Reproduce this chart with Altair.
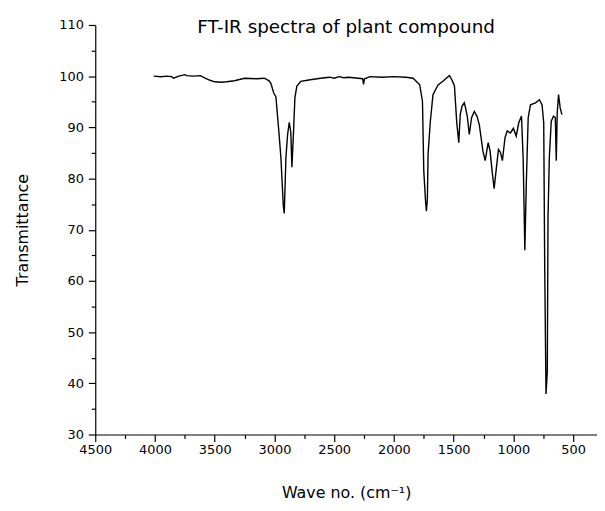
import altair as alt
import pandas as pd

# Wavenumber (cm-1)
wave = [4010, 3950, 3900, 3860, 3845, 3800, 3750, 3735, 3680, 3620, 3580, 3540, 3500, 3445, 3400,
        3335, 3250, 3150, 3085, 3045, 3030, 3006, 2988, 2965, 2946, 2926, 2918, 2904, 2890, 2876,
        2863, 2854, 2840, 2829, 2813, 2780, 2700, 2614, 2540, 2500, 2460, 2420, 2380, 2300, 2262,
        2254, 2246, 2200, 2100, 2000, 1900, 1839, 1784, 1761, 1750, 1735, 1728, 1720, 1714, 1695,
        1673, 1631, 1590, 1562, 1535, 1515, 1500, 1493, 1474, 1457, 1445, 1430, 1411, 1400, 1385,
        1369, 1350, 1327, 1305, 1285, 1272, 1255, 1236, 1211, 1195, 1180, 1161, 1145, 1125, 1108,
        1092, 1070, 1051, 1025, 1000, 976, 955, 932, 918, 904, 892, 876, 857, 815, 782,
        760, 746, 738, 727, 716, 710, 699, 683, 664, 649, 641, 633, 622, 608, 594]
# Transmittance (%)
trans = [100.0, 99.9, 100.0, 99.9, 99.6, 100.0, 100.3, 100.1, 100.0, 100.1, 99.6, 99.2, 98.9, 98.8, 98.9,
         99.1, 99.6, 99.5, 99.6, 99.1, 98.6, 96.7, 96.0, 89.7, 84.1, 74.7, 73.2, 84.1, 88.6, 91.0,
         89.0, 82.2, 89.3, 95.7, 98.0, 99.0, 99.3, 99.6, 99.8, 99.6, 99.9, 99.7, 99.8, 99.6, 99.5,
         98.4, 99.5, 99.9, 99.8, 99.9, 99.8, 99.6, 98.3, 95.1, 81.5, 75.5, 73.6, 76.0, 84.8, 91.2,
         96.4, 98.3, 99.0, 99.6, 100.1, 99.3, 98.5, 98.0, 90.9, 87.0, 92.5, 94.1, 94.8, 93.8, 92.0,
         88.6, 91.9, 93.1, 92.2, 90.5, 88.3, 85.4, 83.5, 87.0, 85.4, 81.9, 78.0, 81.5, 85.7, 85.1,
         83.5, 88.0, 89.3, 88.9, 89.8, 88.3, 90.9, 92.2, 83.8, 66.0, 78.9, 91.9, 94.4, 94.8, 95.4,
         94.4, 90.9, 63.5, 37.9, 42.2, 72.5, 84.1, 91.2, 92.2, 91.9, 83.5, 92.8, 96.4, 93.8, 92.5]

x_major = [4500, 4000, 3500, 3000, 2500, 2000, 1500, 1000, 500]
x_minor = [4250, 3750, 3250, 2750, 2250, 1750, 1250, 750]
y_major = [30, 40, 50, 60, 70, 80, 90, 100, 110]
y_minor = [35, 45, 55, 65, 75, 85, 95, 105]

df = pd.DataFrame({"w": wave, "t": trans})

FONT = "DejaVu Sans"
xscale = alt.Scale(domain=[300, 4500], reverse=True, nice=False, zero=False)
yscale = alt.Scale(domain=[30, 110], nice=False, zero=False)

main = alt.Chart(df).mark_line(color="black", strokeWidth=1.4).encode(
    x=alt.X("w:Q", scale=xscale,
            axis=alt.Axis(values=x_major, orient="bottom", title="Wave no. (cm⁻¹)",
                          tickSize=7, labelPadding=2, titlePadding=29, format="d",
                          labelFontSize=13, titleFontSize=16, labelFont=FONT, titleFont=FONT,
                          titleFontWeight="normal", labelFlush=False)),
    y=alt.Y("t:Q", scale=yscale,
            axis=alt.Axis(values=y_major, orient="left", title="Transmittance",
                          tickSize=7, labelPadding=5, titlePadding=29, format="d",
                          labelFontSize=13, titleFontSize=16, labelFont=FONT, titleFont=FONT,
                          titleFontWeight="normal", labelFlush=False)),
)

minor = alt.Chart(df).mark_line(opacity=0).encode(
    x=alt.X("w:Q", scale=xscale,
            axis=alt.Axis(values=x_minor, orient="bottom", title=None, labels=False,
                          domain=False, tickSize=4)),
    y=alt.Y("t:Q", scale=yscale,
            axis=alt.Axis(values=y_minor, orient="left", title=None, labels=False,
                          domain=False, tickSize=4)),
)

chart = alt.layer(main, minor).resolve_axis(x="independent", y="independent").properties(
    width=506, height=413,
    title=alt.TitleParams("FT-IR spectra of plant compound", font=FONT, fontSize=18.5,
                          fontWeight="normal", color="black", anchor="middle",
                          baseline="alphabetic", offset=-33),
    autosize=alt.AutoSizeParams(type="none"),
    padding={"left": 88, "top": 15, "right": 0, "bottom": 72},
).configure_view(stroke=None).configure_axis(
    grid=False, domainColor="black", tickColor="black", labelColor="black", titleColor="black",
    domainWidth=1.2, tickWidth=1.2
)

chart.save("out.html", embed_options={"renderer": "svg", "actions": False})
